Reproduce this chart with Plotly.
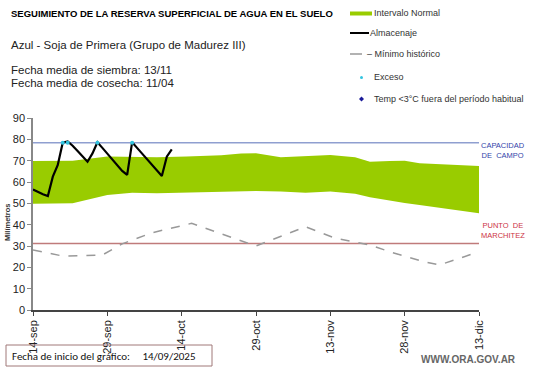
import plotly.graph_objects as go
import pandas as pd

start = pd.Timestamp("2025-09-14")

# Almacenaje (daily, days since 14-sep)
alm_days = list(range(0, 29))
alm_vals = [56.5, 55.3, 54.3, 53.4, 62.5, 68.0, 78.4, 79.0, 77.0, 74.5, 72.0, 69.5,
            73.4, 78.6, 76.0, 73.2, 70.4, 67.8, 65.2, 63.3, 78.6, 76.0, 73.3, 70.6,
            68.0, 65.4, 62.8, 71.9, 75.3]

# Exceso points
exc_days = [6, 7, 13, 20]
exc_vals = [78.4, 78.4, 78.4, 78.4]

# Intervalo normal band
band_days = [0, 8, 15, 20, 25, 31, 38, 42, 45, 50, 55, 60, 65, 68, 72, 75, 78, 82, 86, 90]
band_upper = [69.9, 70.0, 71.9, 71.8, 71.6, 71.9, 72.5, 73.4, 73.5, 71.6, 72.0, 72.7, 71.6,
              69.5, 69.8, 70.0, 68.8, 68.4, 68.0, 67.5]
band_lower = [49.8, 50.0, 53.9, 55.0, 54.7, 55.0, 55.4, 55.7, 55.8, 55.5, 55.0, 55.5, 54.5,
              52.8, 51.2, 50.2, 49.2, 47.8, 46.5, 45.3]

# Minimo historico
min_days = [0, 6, 14, 18, 24, 32, 45, 55, 61, 68, 72, 79, 82, 90]
min_vals = [28.1, 25.3, 25.8, 31.0, 36.2, 40.6, 30.0, 39.0, 33.6, 30.5, 27.3, 22.6, 21.1, 27.3]

capacidad = 78.4
marchitez = 31.2

tick_days = [0, 15, 30, 45, 60, 75, 90]
tick_text = ["14-sep", "29-sep", "14-oct", "29-oct", "13-nov", "28-nov", "13-dic"]


def d(days):
    return [start + pd.Timedelta(days=int(x)) for x in days]


fig = go.Figure()

fig.add_trace(go.Scatter(x=d(band_days), y=band_lower, mode="lines",
                         line=dict(width=0, color="#99cc00"), showlegend=False,
                         hoverinfo="skip"))
fig.add_trace(go.Scatter(x=d(band_days), y=band_upper, mode="lines", fill="tonexty",
                         fillcolor="#99cc00", line=dict(width=0, color="#99cc00"),
                         showlegend=False, name="Intervalo Normal"))

fig.add_trace(go.Scatter(x=d([0, 90]), y=[capacidad, capacidad], mode="lines",
                         line=dict(color="#8f9fd0", width=1.5), showlegend=False))
fig.add_trace(go.Scatter(x=d([0, 90]), y=[marchitez, marchitez], mode="lines",
                         line=dict(color="#c07b7b", width=1.5), showlegend=False))

fig.add_trace(go.Scatter(x=d(min_days), y=min_vals, mode="lines",
                         line=dict(color="#999999", width=1.5, dash="dash"),
                         showlegend=False, name="Mínimo histórico"))

fig.add_trace(go.Scatter(x=d(alm_days), y=alm_vals, mode="lines",
                         line=dict(color="#000000", width=2.2), showlegend=False,
                         name="Almacenaje"))
fig.add_trace(go.Scatter(x=d(exc_days), y=exc_vals, mode="markers",
                         marker=dict(color="#33c4e0", size=4), showlegend=False,
                         name="Exceso"))

fig.update_xaxes(
    range=[start, start + pd.Timedelta(days=90)], automargin=False,
    tickvals=d(tick_days), ticktext=tick_text, tickangle=-90,
    showgrid=False, zeroline=False, showline=True, linecolor="#444444", linewidth=1.5,
    ticks="outside", ticklen=4, tickcolor="#444444",
    tickfont=dict(family="Arial, Liberation Sans", size=11, color="#222222"),
)
fig.update_yaxes(
    range=[0, 90], tickvals=list(range(0, 91, 10)), automargin=False,
    showgrid=False, zeroline=False, showline=True, linecolor="#888888", linewidth=1.5,
    ticks="outside", ticklen=4, tickcolor="#888888",
    tickfont=dict(family="Arial, Liberation Sans", size=11, color="#222222"),
)

font = "Arial, Liberation Sans"
ann = []


def txt(x, y, s, size=11, color="#222222", bold=False, anchor="left", yanchor="middle", fam=font):
    if bold:
        s = "<b>" + s + "</b>"
    ann.append(dict(x=x, y=y, xref="paper", yref="paper", text=s, showarrow=False,
                    xanchor=anchor, yanchor=yanchor,
                    font=dict(family=fam, size=size, color=color)))


W, H = 541, 368
ml, mr, mt, mb = 33, 62, 118, 58
pw, ph = W - ml - mr, H - mt - mb


def pp(x, y):
    # pixel to paper coords relative to plot area
    return (x - ml) / pw, (H - mb - y) / ph


x0, y0 = pp(9, 13)
txt(x0, y0, "SEGUIMIENTO DE LA RESERVA SUPERFICIAL DE AGUA EN EL SUELO", size=9.5, bold=True, color="#000000")
x0, y0 = pp(9, 45)
txt(x0, y0, "Azul - Soja de Primera (Grupo de Madurez III)", size=11.5)
x0, y0 = pp(9, 70)
txt(x0, y0, "Fecha media de siembra: 13/11", size=11.5)
x0, y0 = pp(9, 83)
txt(x0, y0, "Fecha media de cosecha: 11/04", size=11.5)

# legend texts
for yy, xs, s in [(13, 372, "Intervalo Normal"), (33, 368, "Almacenaje"),
                  (54, 365, "– Mínimo histórico"),
                  (77, 372, "Exceso"), (99, 372, "Temp &lt;3°C fuera del período habitual")]:
    x0, y0 = pp(xs, yy)
    txt(x0, y0, s, size=9, color="#333333")

# right side labels
x0, y0 = pp(479, 150)
txt(x0, y0, "CAPACIDAD<br>DE  CAMPO", size=7.5, color="#3344aa")
x0, y0 = pp(479, 230)
txt(x0, y0, "PUNTO  DE<br>MARCHITEZ", size=7.5, color="#cc3344")

# y axis title
x0, y0 = pp(7, 222)
ann.append(dict(x=x0, y=y0, xref="paper", yref="paper", text="<b>Milímetros</b>", showarrow=False,
                textangle=-90, xanchor="center", yanchor="middle",
                font=dict(family=font, size=7.5, color="#333333")))

# bottom box
x0, y0 = pp(10, 356)
txt(x0, y0, "Fecha de inicio del gráfico:     14/09/2025", size=11, color="#111111",
    fam="Carlito, Open Sans, Noto Sans")

x0, y0 = pp(518, 359)
txt(x0, y0, "WWW.ORA.GOV.AR", size=10, bold=True, color="#666666", anchor="right")

shapes = []
# bottom box border
a, b = pp(6, 345)
c, e = pp(212, 366)
shapes.append(dict(type="rect", xref="paper", yref="paper", x0=a, y0=e, x1=c, y1=b,
                   line=dict(color="#a07878", width=1), fillcolor="rgba(0,0,0,0)"))
# legend symbols
a, b = pp(350, 11.5)
c, e = pp(372, 15.5)
shapes.append(dict(type="rect", xref="paper", yref="paper", x0=a, y0=e, x1=c, y1=b,
                   line=dict(width=0), fillcolor="#99cc00"))
a, b = pp(350, 33)
c, _ = pp(369, 33)
shapes.append(dict(type="line", xref="paper", yref="paper", x0=a, y0=b, x1=c, y1=b,
                   line=dict(color="#000000", width=2)))
a, b = pp(350, 54)
c, _ = pp(362, 54)
shapes.append(dict(type="line", xref="paper", yref="paper", x0=a, y0=b, x1=c, y1=b,
                   line=dict(color="#999999", width=1.5)))
a, b = pp(360, 76)
c, e = pp(363, 79)
shapes.append(dict(type="circle", xref="paper", yref="paper", x0=a, y0=e, x1=c, y1=b,
                   line=dict(width=0), fillcolor="#33c4e0"))
# diamond
cx, cy = 361.5, 99
pts = [pp(cx, cy - 2.5), pp(cx + 2.5, cy), pp(cx, cy + 2.5), pp(cx - 2.5, cy)]
path = "M " + " L ".join(f"{p[0]},{p[1]}" for p in pts) + " Z"
shapes.append(dict(type="path", xref="paper", yref="paper", path=path,
                   line=dict(width=0), fillcolor="#1a1a99"))

fig.update_layout(
    width=W, height=H,
    margin=dict(l=ml, r=mr, t=mt, b=mb),
    paper_bgcolor="white", plot_bgcolor="white",
    annotations=ann, shapes=shapes, showlegend=False,
)

fig.write_html("out.html", config={"displayModeBar": False},
               post_script="document.body.style.margin='0';document.body.style.overflow='hidden';")
